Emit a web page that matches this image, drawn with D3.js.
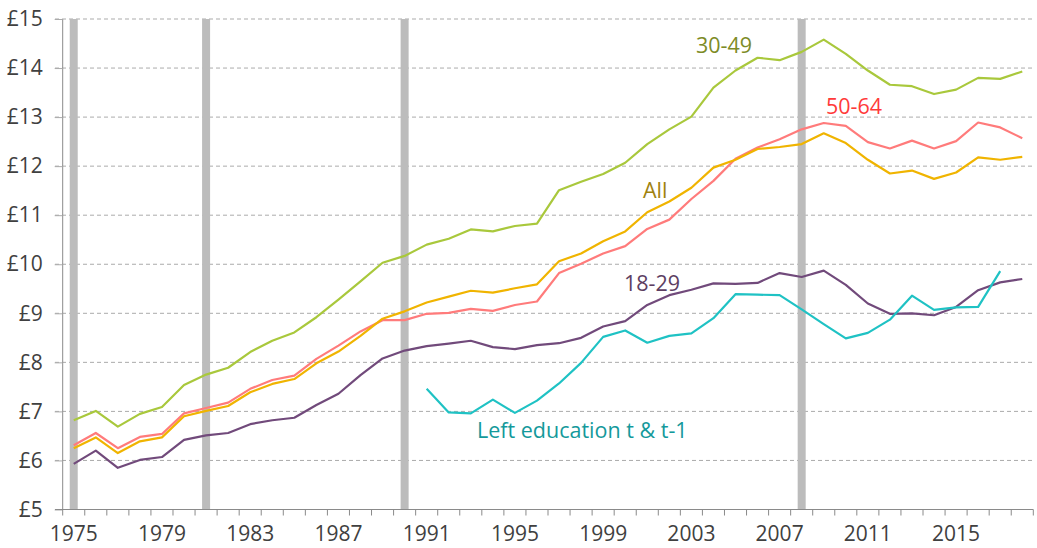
<!DOCTYPE html>
<html>
<head>
<meta charset="utf-8">
<script src="https://cdn.jsdelivr.net/npm/d3@7"></script>
<style>
  html, body { margin: 0; padding: 0; background: #fff; }
  svg { display: block; }
  text { font-family: "Open Sans", "Noto Sans", sans-serif; }
</style>
</head>
<body>
<svg id="chart" width="1037" height="548"></svg>
<script>
const years = d3.range(1975, 2019);
const tickYears = [1975, 1979, 1983, 1987, 1991, 1995, 1999, 2003, 2007, 2011, 2015];
const yTicks = [5, 6, 7, 8, 9, 10, 11, 12, 13, 14, 15];
const recessionYears = [1975, 1981, 1990, 2008];

const age3049 = [6.82, 7.01, 6.69, 6.95, 7.09, 7.54, 7.75, 7.89, 8.21, 8.44, 8.61, 8.92, 9.28, 9.65, 10.03, 10.17, 10.40, 10.52, 10.71, 10.67, 10.78, 10.83, 11.51, 11.68, 11.84, 12.07, 12.45, 12.75, 13.01, 13.60, 13.95, 14.21, 14.16, 14.33, 14.58, 14.29, 13.95, 13.66, 13.63, 13.47, 13.56, 13.80, 13.78, 13.93];
const age5064 = [6.31, 6.56, 6.25, 6.48, 6.54, 6.96, 7.07, 7.18, 7.46, 7.64, 7.73, 8.07, 8.34, 8.63, 8.86, 8.86, 8.99, 9.01, 9.09, 9.05, 9.17, 9.24, 9.82, 10.01, 10.22, 10.37, 10.72, 10.91, 11.33, 11.70, 12.15, 12.38, 12.55, 12.75, 12.88, 12.82, 12.49, 12.36, 12.52, 12.36, 12.51, 12.89, 12.79, 12.57];
const allAges = [6.25, 6.47, 6.15, 6.39, 6.47, 6.90, 7.01, 7.11, 7.39, 7.56, 7.66, 7.98, 8.22, 8.54, 8.89, 9.04, 9.22, 9.34, 9.46, 9.42, 9.51, 9.59, 10.06, 10.22, 10.47, 10.67, 11.06, 11.28, 11.56, 11.97, 12.13, 12.35, 12.39, 12.45, 12.67, 12.47, 12.13, 11.85, 11.91, 11.74, 11.87, 12.18, 12.13, 12.19];
const age1829 = [5.93, 6.20, 5.85, 6.01, 6.07, 6.42, 6.51, 6.56, 6.74, 6.82, 6.87, 7.13, 7.36, 7.74, 8.08, 8.24, 8.33, 8.38, 8.44, 8.31, 8.27, 8.35, 8.39, 8.50, 8.73, 8.84, 9.17, 9.37, 9.48, 9.61, 9.60, 9.62, 9.82, 9.74, 9.87, 9.58, 9.20, 8.99, 9.00, 8.96, 9.13, 9.47, 9.63, 9.70];
const leftEducation = [null, null, null, null, null, null, null, null, null, null, null, null, null, null, null, null, 7.46, 6.98, 6.96, 7.24, 6.97, 7.22, 7.57, 7.99, 8.52, 8.65, 8.40, 8.54, 8.59, 8.90, 9.39, 9.38, 9.37, 9.08, 8.78, 8.49, 8.60, 8.87, 9.36, 9.07, 9.12, 9.13, 9.86, null];

const seriesNames = ["30-49", "50-64", "All", "18-29", "Left education t & t-1"];
const seriesValues = [age3049, age5064, allAges, age1829, leftEducation];
const lineColors = ["#a9c83c", "#ff7b7b", "#f0b400", "#714a7b", "#1fc2c4"];
const labelColors = ["#7d8b26", "#ff3a3a", "#a0820f", "#5d3e62", "#14999b"];
const labelPos = [[696, 53], [826, 114], [643, 198], [624, 291], [477, 438]];

const svg = d3.select("#chart");
const x = d3.scaleBand().domain(years).range([62.7, 1033.3]).padding(0);
const y = d3.scaleLinear().domain([5, 15]).range([509.5, 19]);
const cx = yr => x(yr) + x.bandwidth() / 2;

// gridlines
svg.append("g").selectAll("line").data(yTicks.filter(t => t > 5)).join("line")
  .attr("x1", 55).attr("x2", 1033.3)
  .attr("y1", d => y(d)).attr("y2", d => y(d))
  .attr("stroke", "#ababab").attr("stroke-width", 1).attr("stroke-dasharray", "4,3");

// recession bars
svg.append("g").selectAll("rect").data(recessionYears).join("rect")
  .attr("x", d => cx(d) - 4).attr("width", 8)
  .attr("y", y(15)).attr("height", y(5) - y(15))
  .attr("fill", "#bcbcbc");

// y axis
const yAxis = svg.append("g").attr("transform", "translate(62.7,0)")
  .call(d3.axisLeft(y).tickValues(yTicks).tickSize(8).tickPadding(12).tickFormat(d => "£" + d));
yAxis.select(".domain").attr("stroke", "#8a8a8a").attr("d", `M0,${y(15)}V${y(5)}`);
yAxis.selectAll(".tick line").attr("stroke", "#ababab");
yAxis.selectAll(".tick text").attr("fill", "#404040").style("font-size", "21px").attr("font-family", null);

// x axis
const xAxis = svg.append("g").attr("transform", `translate(0,${y(5)})`)
  .call(d3.axisBottom(x).tickValues(tickYears).tickSize(0).tickPadding(17));
xAxis.select(".domain").attr("stroke", "#8a8a8a").attr("d", `M55,0H1033.3`);
xAxis.selectAll(".tick text").attr("fill", "#404040").style("font-size", "21px").attr("font-family", null);
// band-boundary ticks
svg.append("g").selectAll("line").data(years.concat([2019])).join("line")
  .attr("x1", d => d === 2019 ? x(2018) + x.bandwidth() : x(d))
  .attr("x2", d => d === 2019 ? x(2018) + x.bandwidth() : x(d))
  .attr("y1", y(5)).attr("y2", y(5) + 6)
  .attr("stroke", "#8a8a8a");

// lines
const line = d3.line()
  .defined(d => d.v !== null)
  .x(d => cx(d.yr)).y(d => y(d.v));
seriesValues.forEach((vals, i) => {
  svg.append("path")
    .datum(years.map((yr, j) => ({ yr, v: vals[j] })))
    .attr("fill", "none").attr("stroke", lineColors[i]).attr("stroke-width", 2.2)
    .attr("stroke-linejoin", "round")
    .attr("d", line);
});

// series labels
svg.append("g").selectAll("text").data(seriesNames).join("text")
  .attr("x", (d, i) => labelPos[i][0]).attr("y", (d, i) => labelPos[i][1])
  .attr("fill", (d, i) => labelColors[i])
  .style("font-size", "21.5px")
  .text(d => d);
</script>
</body>
</html>
